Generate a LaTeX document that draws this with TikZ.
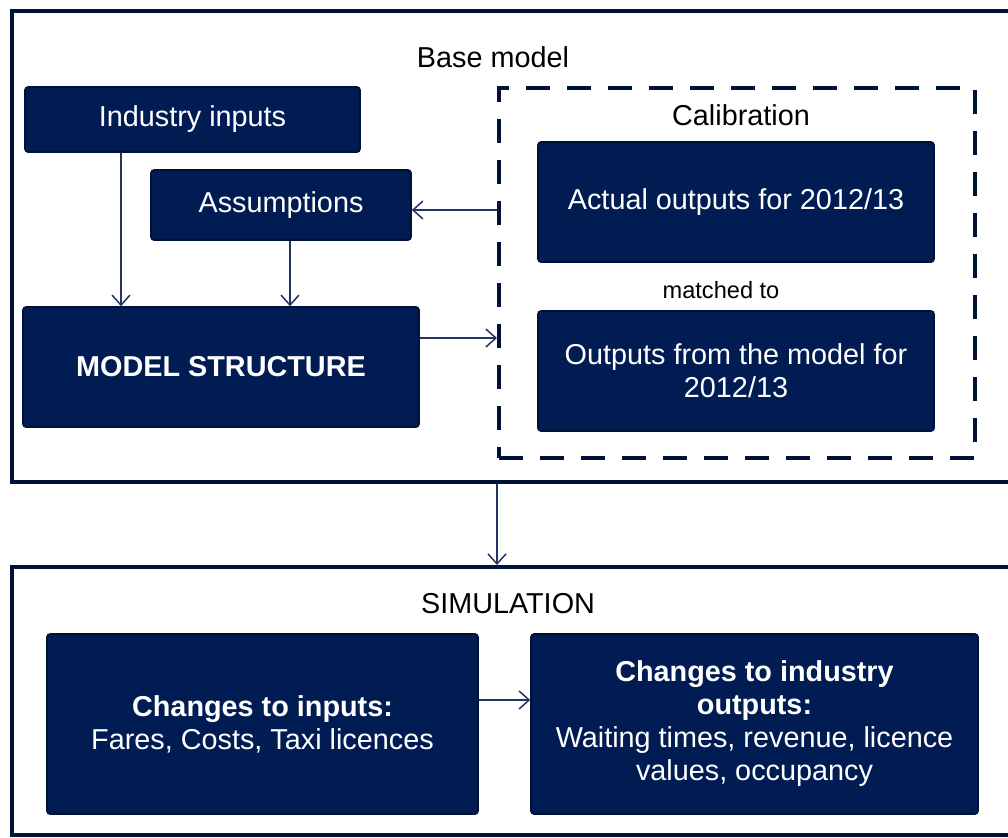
\documentclass[tikz,border=0pt]{standalone}
\usepackage{fontspec}
\setmainfont{Liberation Sans}
\usetikzlibrary{arrows.meta}
\definecolor{navyfill}{RGB}{0,28,82}
\definecolor{navyedge}{RGB}{0,18,56}
\definecolor{navyline}{RGB}{36,50,100}

\begin{document}
\begin{tikzpicture}[x=0.5pt, y=-0.5pt,
        box/.style={rectangle, rounded corners=1.5pt, fill=navyfill, draw=navyedge, line width=0.8pt,
            text=white, align=center, inner sep=0pt, font=\fontsize{14.4}{16.5}\selectfont},
        frame/.style={rectangle, draw=navyedge, line width=2pt, inner sep=0pt},
        calibbox/.style={rectangle, draw=navyedge, line width=2pt, dash pattern=on 12pt off 8.5pt, inner sep=0pt},
        conn/.style={draw=navyline, line width=0.75pt, -{Straight Barb[length=5pt,width=9pt]}},
        title/.style={font=\fontsize{14.4}{16.5}\selectfont}]

        \useasboundingbox (0,0) rectangle (1008,837);

        % frames
        \node[frame, minimum width=509pt, minimum height=235.5pt] (base) at (521,246.5) {};
        \node[frame, minimum width=509pt, minimum height=134pt] (sim) at (521,701) {};
        \node[calibbox, minimum width=238pt, minimum height=185pt] (calib) at (737,273) {};

        % titles
        \node[title] (basetitle) at (493,57) {Base model};
        \node[title] (calibtitle) at (741,115) {Calibration};
        \node[font=\fontsize{11.8}{14}\selectfont] (matched) at (721,290) {matched to};
        \node[title] (simtitle) at (508,604) {SIMULATION};

        % base model
        \node[box, minimum width=167.5pt, minimum height=32.5pt] (ind) at (192.5,119.5) {Industry inputs};
        \node[box, minimum width=130pt, minimum height=35pt] (assum) at (281,205) {Assumptions};
        \node[box, minimum width=198pt, minimum height=60pt] (model) at (221,367) {\textbf{MODEL STRUCTURE}};
        \node[box, minimum width=198pt, minimum height=60pt] (actual) at (736,202) {Actual outputs for 2012/13};
        \node[box, minimum width=198pt, minimum height=60pt] (modelout) at (736,371) {Outputs from the model for\\2012/13};

        % simulation
        \node[box, minimum width=215.5pt, minimum height=90pt] (inp) at (262.5,724)
            {\textbf{Changes to inputs:}\\Fares, Costs, Taxi licences};
        \node[box, minimum width=223.5pt, minimum height=90pt] (outp) at (754.5,724)
            {\textbf{Changes to industry}\\\textbf{outputs:}\\Waiting times, revenue, licence\\values, occupancy};

        \draw[conn] ([xshift=-35.75pt]ind.south) -- ([xshift=-35.75pt]ind.south |- model.north);
        \draw[conn] ([xshift=4.5pt]assum.south) -- ([xshift=4.5pt]assum.south |- model.north);
        \draw[conn] ([yshift=14.5pt]model.east) -- ([yshift=14.5pt]model.east -| calib.west);
        \draw[conn] ([yshift=-2.5pt]assum.east -| calib.west) -- ([yshift=-2.5pt]assum.east);
        \draw[conn] (calib.west |- base.south) -- (calib.west |- sim.north);
        \draw[conn] ([yshift=12pt]inp.east) -- ([yshift=12pt]inp.east -| outp.west);
    \end{tikzpicture}
\end{document}
